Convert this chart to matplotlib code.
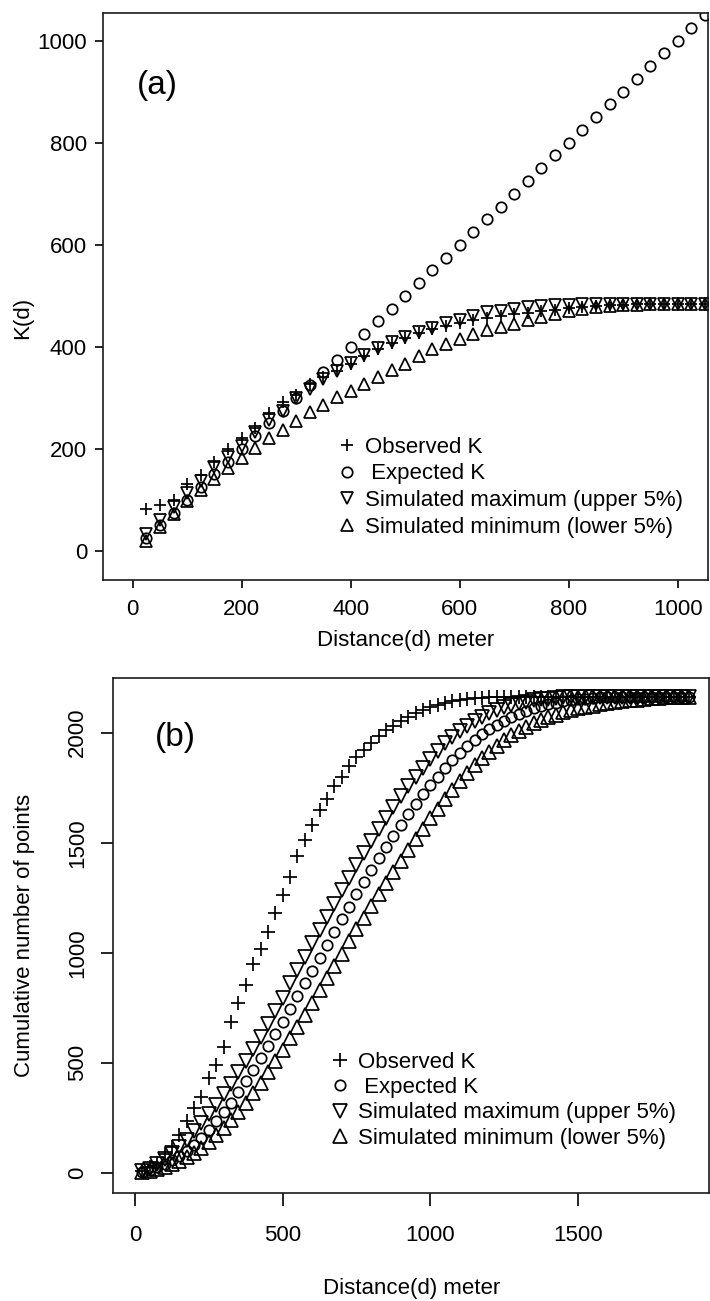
import matplotlib.pyplot as plt

plt.rcParams['font.family'] = ['Liberation Sans', 'DejaVu Sans']

# ---- panel (a): K function ----
dist_a = [25, 50, 75, 100, 125, 150, 175, 200, 225, 250,
          275, 300, 325, 350, 375, 400, 425, 450, 475, 500,
          525, 550, 575, 600, 625, 650, 675, 700, 725, 750,
          775, 800, 825, 850, 875, 900, 925, 950, 975, 1000,
          1025, 1050]
obs_a = [82, 90, 100, 131, 149, 174, 200, 221, 240, 270,
         292, 305, 327, 340, 352, 367, 382, 395, 407, 417,
         427, 434, 441, 447, 452, 456, 460, 464, 467, 470,
         473, 476, 478, 480, 481, 482, 483, 483, 483, 483,
         483, 483]
exp_a = [25, 50, 75, 100, 125, 150, 175, 200, 225, 250,
         275, 300, 325, 350, 375, 400, 425, 450, 475, 500,
         525, 550, 575, 600, 625, 650, 675, 700, 725, 750,
         775, 800, 825, 850, 875, 900, 925, 950, 975, 1000,
         1025, 1050]
max_a = [33, 61, 86, 114, 137, 164, 184, 206, 234, 256,
         275, 299, 318, 336, 352, 369, 383, 397, 409, 419,
         430, 437, 447, 453, 461, 468, 471, 474, 478, 480,
         481, 482, 483, 483, 484, 484, 484, 484, 484, 484,
         484, 484]
min_a = [20, 47, 72, 97, 120, 141, 163, 182, 202, 221,
         237, 254, 272, 286, 301, 314, 327, 340, 355, 367,
         382, 395, 405, 416, 425, 432, 439, 445, 453, 458,
         465, 471, 474, 478, 480, 481, 482, 483, 483, 483,
         483, 483]

# ---- panel (b): cumulative number of points ----
dist_b = [25, 50, 75, 100, 125, 150, 175, 200, 225, 250,
          275, 300, 325, 350, 375, 400, 425, 450, 475, 500,
          525, 550, 575, 600, 625, 650, 675, 700, 725, 750,
          775, 800, 825, 850, 875, 900, 925, 950, 975, 1000,
          1025, 1050, 1075, 1100, 1125, 1150, 1175, 1200, 1225, 1250,
          1275, 1300, 1325, 1350, 1375, 1400, 1425, 1450, 1475, 1500,
          1525, 1550, 1575, 1600, 1625, 1650, 1675, 1700, 1725, 1750,
          1775, 1800, 1825, 1850, 1875]
obs_b = [10, 25, 45, 85, 118, 170, 235, 295, 345, 430,
         490, 573, 686, 770, 853, 949, 1015, 1095, 1180, 1262,
         1343, 1440, 1512, 1580, 1648, 1700, 1757, 1800, 1848, 1888,
         1922, 1955, 1985, 2010, 2032, 2052, 2070, 2088, 2104, 2118,
         2128, 2137, 2144, 2150, 2154, 2157, 2159, 2161, 2162, 2162,
         2162, 2162, 2162, 2162, 2162, 2162, 2162, 2162, 2162, 2162,
         2162, 2162, 2162, 2162, 2162, 2162, 2162, 2162, 2162, 2162,
         2162, 2162, 2162, 2162, 2162]
exp_b = [5, 12, 25, 40, 58, 78, 100, 128, 160, 196,
         234, 275, 318, 366, 416, 467, 520, 574, 630, 686,
         743, 803, 861, 918, 976, 1035, 1093, 1152, 1208, 1265,
         1321, 1376, 1429, 1481, 1532, 1582, 1630, 1676, 1720, 1761,
         1800, 1838, 1874, 1908, 1940, 1968, 1993, 2016, 2036, 2055,
         2072, 2087, 2100, 2112, 2122, 2130, 2137, 2143, 2148, 2152,
         2155, 2158, 2160, 2161, 2162, 2162, 2162, 2162, 2162, 2162,
         2162, 2162, 2162, 2162, 2162]
max_b = [6, 18, 38, 62, 88, 116, 150, 188, 226, 267,
         310, 356, 405, 456, 509, 562, 618, 675, 733, 792,
         861, 920, 981, 1042, 1102, 1163, 1222, 1283, 1341, 1397,
         1452, 1508, 1560, 1613, 1663, 1711, 1756, 1798, 1841, 1881,
         1918, 1953, 1982, 2009, 2032, 2054, 2073, 2090, 2104, 2116,
         2126, 2134, 2141, 2147, 2151, 2155, 2158, 2160, 2161, 2162,
         2162, 2162, 2162, 2162, 2162, 2162, 2162, 2162, 2162, 2162,
         2162, 2162, 2162, 2162, 2162]
min_b = [3, 8, 15, 25, 38, 52, 70, 90, 114, 140,
         170, 202, 238, 277, 318, 362, 408, 456, 507, 558,
         611, 664, 718, 773, 829, 884, 940, 996, 1051, 1106,
         1160, 1213, 1265, 1316, 1366, 1416, 1468, 1517, 1564, 1610,
         1655, 1698, 1740, 1780, 1818, 1853, 1885, 1914, 1941, 1966,
         1988, 2008, 2026, 2042, 2057, 2070, 2082, 2093, 2102, 2110,
         2117, 2123, 2129, 2134, 2139, 2143, 2147, 2150, 2153, 2156,
         2158, 2160, 2161, 2162, 2162]

labels = ["Observed K", " Expected K",
          "Simulated maximum (upper 5%)", "Simulated minimum (lower 5%)"]

FS = 16
LW = 1.25


def draw_series(ax, d, series, sizes):
    markers = ['+', 'o', 'v', '^']
    for vals, m, ms, lab in zip(series, markers, sizes, labels):
        ax.plot(d, vals, linestyle='none', marker=m, markersize=ms,
                markerfacecolor='none', markeredgecolor='black',
                markeredgewidth=LW, label=lab)


def style_axes(ax):
    for s in ax.spines.values():
        s.set_linewidth(1.2)
        s.set_color('#1a1a1a')


fig = plt.figure(figsize=(7.1, 13.01), dpi=100)

# panel (a)
ax1 = fig.add_axes([0.1451, 0.5542, 0.8521, 0.4361])
draw_series(ax1, dist_a, [obs_a, exp_a, max_a, min_a], [8.0, 7.5, 8.2, 8.2])
ax1.set_xlim(-54.5, 1055.6)
ax1.set_ylim(-57, 1055)
ax1.set_xticks([0, 200, 400, 600, 800, 1000])
ax1.set_yticks([0, 200, 400, 600, 800, 1000])
ax1.tick_params(axis='both', direction='out', length=6, width=1.2,
                labelsize=FS)
ax1.tick_params(axis='x', pad=8)
ax1.tick_params(axis='y', pad=5.5)
style_axes(ax1)
ax1.set_xlabel("Distance(d) meter", fontsize=FS)
ax1.xaxis.set_label_coords(0.5, -0.1075)
ax1.xaxis.label.set_va('center')
ax1.set_ylabel("K(d)", fontsize=FS)
ax1.yaxis.set_label_coords(-0.1322, 0.4627)
ax1.yaxis.label.set_va('center')
ax1.text(0.0893, 0.8708, "(a)", transform=ax1.transAxes, fontsize=24,
         ha='center', va='center')
ax1.legend(loc='upper left', bbox_to_anchor=(0.388, 0.2522),
           frameon=False, fontsize=FS, numpoints=1, borderpad=0,
           borderaxespad=0, handlelength=0.8, handletextpad=0.42,
           labelspacing=0.25)

# panel (b)
ax2 = fig.add_axes([0.1596, 0.0832, 0.8394, 0.3954])
draw_series(ax2, dist_b, [obs_b, exp_b, max_b, min_b], [9.5, 7.5, 9.5, 9.5])
ax2.set_xlim(-73.5, 1945)
ax2.set_ylim(-91, 2247)
ax2.set_xticks([0, 500, 1000, 1500])
ax2.set_yticks([0, 500, 1000, 1500, 2000])
ax2.tick_params(axis='both', direction='out', length=9, width=1.2,
                labelsize=FS)
ax2.tick_params(axis='x', pad=14)
ax2.tick_params(axis='y', pad=9.4, labelrotation=90)
for lbl in ax2.get_yticklabels():
    lbl.set_va('center')
style_axes(ax2)
ax2.set_xlabel("Distance(d) meter", fontsize=FS)
ax2.xaxis.set_label_coords(0.5, -0.1853)
ax2.xaxis.label.set_va('center')
ax2.set_ylabel("Cumulative number of points", fontsize=FS)
ax2.yaxis.set_label_coords(-0.1482, 0.5)
ax2.yaxis.label.set_va('center')
ax2.text(0.1035, 0.8859, "(b)", transform=ax2.transAxes, fontsize=24,
         ha='center', va='center')
ax2.legend(loc='upper left', bbox_to_anchor=(0.3654, 0.2736),
           frameon=False, fontsize=FS, numpoints=1, borderpad=0,
           borderaxespad=0, handlelength=0.8, handletextpad=0.42,
           labelspacing=0.19)

fig.savefig("out.png", dpi=100)
